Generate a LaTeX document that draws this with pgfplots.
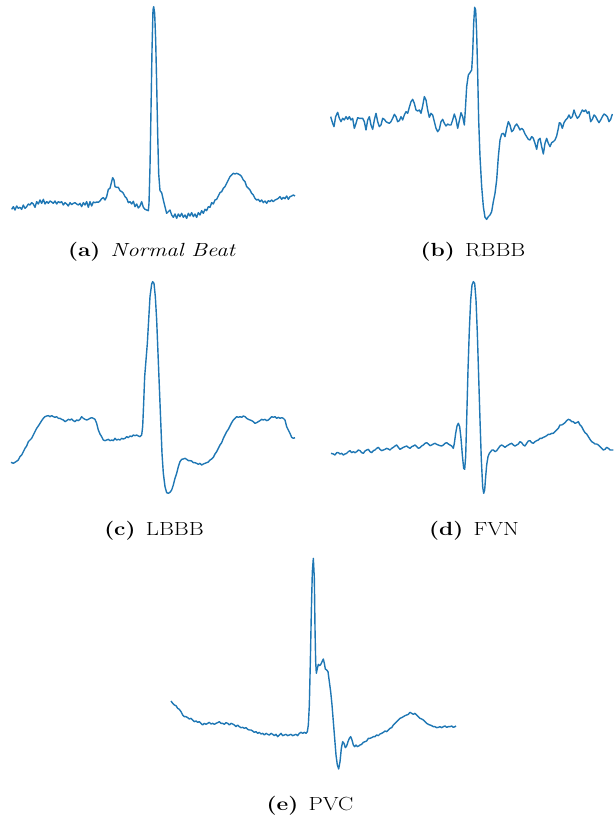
\documentclass[border=0pt]{standalone}
\usepackage{pgfplots}
\pgfplotsset{compat=1.18}
\usepackage{graphicx}
\definecolor{mplblue}{HTML}{1F77B4}
\pgfplotsset{ecg/.style={hide axis, scale only axis, y dir=reverse, clip=false, anchor=center},
  ecgline/.style={color=mplblue, line width=1.4pt, line join=round, mark=none}}
\newcommand{\subcap}[2]{\fontsize{19}{23}\selectfont\scalebox{1.2}[1]{\textbf{(#1)}\hspace{0.45em}#2}}
\begin{document}
\begin{tikzpicture}
\useasboundingbox (0,0) rectangle (613pt,821pt);
% (a) Normal beat
\begin{axis}[ecg, at={(150pt,706pt)}, width=300pt, height=230pt, xmin=0, xmax=900, ymin=0, ymax=690]
\addplot[ecgline] coordinates {(35,628) (40,620) (45,630) (50,618) (55,625) (60,622) (65,628) (70,615) (75,625) (80,620) (85,612) (90,615) (95,608) (100,612) (105,622) (110,605) (115,612) (120,600) (125,610) (130,598) (135,612) (140,605) (145,610) (150,603) (155,606) (160,610) (165,603) (170,612) (175,605) (180,608) (185,605) (190,615) (195,608) (200,612) (205,618) (210,608) (215,614) (220,610) (225,608) (230,612) (235,615) (240,610) (245,620) (250,608) (255,615) (260,605) (265,622) (270,605) (275,618) (280,606) (285,608) (290,606) (295,607) (300,603) (305,596) (310,593) (315,600) (320,590) (325,568) (330,565) (335,545) (338,533) (342,540) (345,560) (350,562) (355,562) (360,572) (365,575) (370,580) (375,590) (380,595) (385,608) (390,605) (395,612) (400,604) (405,620) (410,612) (415,624) (420,618) (425,605) (430,622) (435,628) (440,630) (445,632) (447,610) (450,500) (453,330) (456,150) (459,30) (461,20) (464,40) (467,120) (470,250) (473,400) (476,520) (480,572) (485,578) (490,600) (495,620) (500,640) (505,635) (510,630) (515,645) (520,652) (525,642) (530,655) (535,642) (540,650) (545,640) (550,652) (555,645) (560,655) (565,640) (570,648) (575,638) (580,650) (585,642) (590,652) (595,638) (600,645) (605,632) (610,640) (615,628) (620,632) (625,620) (630,622) (635,608) (640,612) (645,600) (650,598) (655,588) (660,578) (665,575) (670,565) (675,560) (680,550) (685,540) (690,530) (695,525) (700,520) (705,522) (710,520) (715,522) (720,525) (725,530) (730,540) (735,545) (740,560) (745,565) (750,570) (755,580) (760,585) (765,595) (770,600) (775,598) (780,605) (785,600) (790,608) (795,603) (800,610) (805,602) (810,605) (815,600) (820,605) (825,600) (830,598) (835,595) (840,590) (845,598) (850,592) (855,596) (860,588) (865,598) (870,590) (875,588) (880,585) (885,588)};
\end{axis}
% (b) RBBB
\begin{axis}[ecg, at={(466.5pt,706pt)}, width=293pt, height=230pt, xmin=0, xmax=879, ymin=0, ymax=690]
\addplot[ecgline] coordinates {(32,350) (38,370) (42,380) (47,350) (53,337) (58,355) (63,365) (68,355) (73,360) (78,350) (83,358) (88,350) (93,360) (98,355) (103,385) (108,370) (113,353) (118,355) (123,355) (128,355) (133,365) (138,390) (143,360) (148,350) (153,375) (158,388) (163,360) (168,340) (173,365) (178,380) (183,375) (188,355) (193,358) (198,365) (203,368) (208,370) (213,365) (218,355) (223,343) (228,350) (233,365) (238,362) (243,350) (248,360) (253,345) (258,335) (263,340) (268,322) (273,305) (278,298) (283,310) (288,330) (293,333) (298,330) (303,340) (308,318) (313,290) (318,300) (323,330) (328,352) (333,340) (338,345) (343,365) (348,385) (353,395) (358,388) (363,365) (368,358) (373,370) (378,378) (383,372) (388,375) (393,375) (398,360) (403,342) (408,358) (413,385) (418,362) (423,338) (428,350) (433,375) (436,330) (440,260) (445,225) (450,218) (455,210) (458,160) (461,70) (464,22) (467,30) (470,100) (473,220) (476,360) (480,470) (485,560) (490,620) (495,652) (500,658) (505,650) (510,645) (515,635) (520,605) (525,580) (530,540) (535,470) (540,420) (545,402) (550,400) (555,410) (560,385) (565,365) (570,375) (575,395) (580,390) (585,378) (590,372) (595,380) (600,390) (605,385) (610,390) (615,402) (620,410) (625,418) (630,420) (635,410) (640,415) (645,430) (650,448) (655,420) (660,415) (665,440) (670,462) (675,430) (680,415) (685,430) (690,440) (695,428) (700,425) (705,420) (710,408) (715,385) (718,368) (722,370) (727,385) (732,368) (737,360) (742,355) (747,345) (752,355) (757,350) (762,330) (767,345) (772,355) (777,350) (782,340) (787,330) (792,335) (797,330) (802,340) (807,335) (812,365) (817,358) (822,345) (827,350) (832,360) (837,368) (842,360) (847,350) (852,342) (857,345) (862,350) (867,365) (872,358) (877,342)};
\end{axis}
% (c) LBBB
\begin{axis}[ecg, at={(150pt,436pt)}, width=300pt, height=230pt, xmin=0, xmax=900, ymin=0, ymax=690]
\addplot[ecgline] coordinates {(33,577) (40,580) (48,575) (55,570) (60,560) (65,555) (70,545) (75,535) (80,528) (85,515) (90,510) (95,505) (100,495) (105,485) (110,475) (115,468) (120,460) (125,452) (130,445) (135,440) (140,438) (145,437) (150,440) (155,437) (160,440) (165,442) (170,440) (175,445) (180,445) (185,448) (190,450) (195,455) (200,452) (205,448) (210,450) (215,447) (220,452) (225,455) (230,450) (235,452) (240,448) (245,440) (250,445) (255,448) (260,450) (265,448) (270,445) (275,443) (280,445) (285,448) (290,460) (295,480) (300,492) (305,500) (310,510) (315,512) (320,510) (325,508) (330,512) (335,510) (340,512) (345,505) (350,510) (355,508) (360,510) (365,505) (370,507) (375,505) (380,500) (385,503) (390,498) (395,500) (400,495) (405,497) (410,495) (415,498) (420,500) (425,495) (428,470) (431,400) (434,320) (438,270) (442,220) (446,150) (450,80) (455,42) (458,35) (462,40) (466,80) (470,150) (474,250) (478,350) (482,450) (486,550) (490,610) (495,650) (500,668) (505,670) (510,667) (515,660) (520,645) (525,625) (530,610) (535,590) (540,575) (545,568) (550,567) (555,565) (560,568) (565,572) (570,572) (575,573) (580,578) (585,578) (590,580) (595,583) (600,580) (605,585) (610,582) (615,580) (620,578) (625,576) (630,570) (635,567) (640,562) (645,552) (650,545) (655,535) (660,525) (665,518) (670,505) (675,495) (680,485) (685,478) (690,468) (695,458) (700,450) (705,445) (710,440) (715,442) (720,440) (725,442) (730,438) (735,440) (740,445) (745,448) (750,450) (755,452) (760,455) (765,460) (770,458) (775,455) (780,452) (785,448) (790,450) (795,448) (800,452) (805,450) (810,445) (815,440) (820,442) (825,440) (830,445) (835,442) (840,445) (845,443) (850,445) (855,450) (860,470) (865,480) (870,490) (875,502) (880,505) (885,503)};
\end{axis}
% (d) FVN
\begin{axis}[ecg, at={(466.5pt,436pt)}, width=293pt, height=230pt, xmin=0, xmax=879, ymin=0, ymax=690]
\addplot[ecgline] coordinates {(33,550) (40,552) (45,555) (50,548) (55,548) (60,552) (65,550) (70,555) (75,552) (80,550) (85,545) (90,542) (95,548) (100,545) (105,548) (110,545) (115,540) (120,542) (125,548) (130,550) (135,543) (140,540) (145,538) (150,545) (155,548) (160,542) (165,540) (170,535) (175,532) (180,538) (185,542) (190,540) (195,538) (200,535) (205,537) (210,540) (215,535) (220,532) (225,528) (230,525) (235,532) (240,538) (245,535) (250,532) (255,530) (260,528) (265,532) (270,535) (275,530) (280,528) (285,525) (290,530) (295,535) (300,533) (305,528) (310,525) (315,520) (320,518) (325,522) (330,527) (335,525) (340,522) (345,520) (350,523) (355,525) (360,527) (365,528) (370,525) (375,520) (380,518) (385,522) (390,525) (395,528) (400,535) (403,520) (407,490) (411,468) (415,460) (419,470) (423,505) (427,555) (431,595) (434,598) (437,560) (440,450) (444,300) (448,180) (452,90) (456,45) (460,35) (464,40) (468,90) (472,190) (476,320) (480,450) (484,570) (488,650) (491,670) (494,660) (497,620) (500,585) (504,560) (508,550) (512,545) (516,540) (520,540) (525,545) (530,542) (535,535) (540,528) (545,525) (550,528) (555,532) (560,528) (565,525) (570,522) (575,520) (580,525) (585,528) (590,525) (595,522) (600,515) (605,518) (610,525) (615,528) (620,520) (625,513) (630,512) (635,518) (640,520) (645,515) (650,512) (655,510) (660,505) (665,505) (670,502) (675,500) (680,497) (685,493) (690,493) (695,490) (700,490) (705,485) (710,480) (715,475) (720,465) (725,465) (730,462) (735,458) (740,452) (745,448) (750,450) (755,455) (760,455) (765,460) (770,458) (775,455) (780,465) (785,470) (790,480) (795,488) (800,492) (805,500) (810,508) (815,515) (820,518) (825,522) (830,522) (835,525) (840,530) (845,535) (850,540) (855,538) (860,532) (865,535) (870,540) (875,540) (880,540)};
\end{axis}
% (e) PVC
\begin{axis}[ecg, at={(315pt,161pt)}, width=310pt, height=230pt, xmin=0, xmax=930, ymin=0, ymax=690]
\addplot[ecgline] coordinates {(33,468) (38,475) (43,480) (48,482) (53,490) (58,493) (63,500) (68,510) (73,515) (78,515) (83,518) (88,522) (93,520) (98,525) (103,530) (108,528) (113,532) (118,530) (123,535) (128,540) (133,535) (138,538) (143,535) (148,532) (153,537) (158,535) (163,538) (168,535) (173,533) (178,530) (183,535) (188,535) (193,538) (198,533) (203,535) (208,540) (213,535) (218,537) (223,540) (228,545) (233,540) (238,545) (243,548) (248,547) (253,550) (258,548) (263,553) (268,555) (273,555) (278,558) (283,562) (288,560) (293,565) (298,562) (303,567) (308,565) (313,570) (318,565) (323,568) (328,570) (333,565) (338,568) (343,572) (348,568) (353,575) (358,570) (363,565) (368,572) (373,570) (378,568) (383,572) (388,570) (393,568) (398,572) (403,570) (408,568) (413,572) (418,565) (423,562) (428,565) (433,562) (438,565) (442,560) (445,540) (448,480) (451,350) (454,200) (457,80) (460,40) (463,100) (465,250) (467,350) (469,385) (472,370) (475,358) (478,362) (481,360) (484,355) (487,348) (490,342) (493,355) (496,372) (500,375) (504,380) (508,410) (512,440) (516,480) (520,530) (524,580) (528,630) (532,660) (536,672) (540,650) (544,610) (548,590) (552,595) (556,608) (560,603) (564,590) (568,580) (572,575) (576,585) (580,600) (584,605) (588,600) (592,605) (596,603) (600,600) (605,598) (610,592) (615,590) (620,588) (625,580) (630,580) (635,578) (640,575) (645,575) (650,570) (655,572) (660,567) (665,565) (670,562) (675,558) (680,560) (685,555) (690,550) (695,548) (700,540) (705,535) (710,530) (715,525) (720,520) (725,518) (730,515) (735,512) (740,510) (745,508) (750,502) (755,505) (760,508) (765,505) (770,510) (775,515) (780,520) (785,522) (790,525) (795,530) (800,535) (805,538) (810,540) (815,542) (820,545) (825,545) (830,548) (835,547) (840,545) (845,548) (850,545) (855,543) (860,547) (865,545) (870,545) (875,543) (880,547) (885,545) (888,543)};
\end{axis}
% captions
\node[anchor=base] at (152pt,564.5pt) {\subcap{a}{\textit{Normal Beat}}};
\node[anchor=base] at (473pt,564.5pt) {\subcap{b}{RBBB}};
\node[anchor=base] at (154pt,285pt) {\subcap{c}{LBBB}};
\node[anchor=base] at (474pt,285pt) {\subcap{d}{FVN}};
\node[anchor=base] at (310pt,10.5pt) {\subcap{e}{PVC}};
\end{tikzpicture}
\end{document}
